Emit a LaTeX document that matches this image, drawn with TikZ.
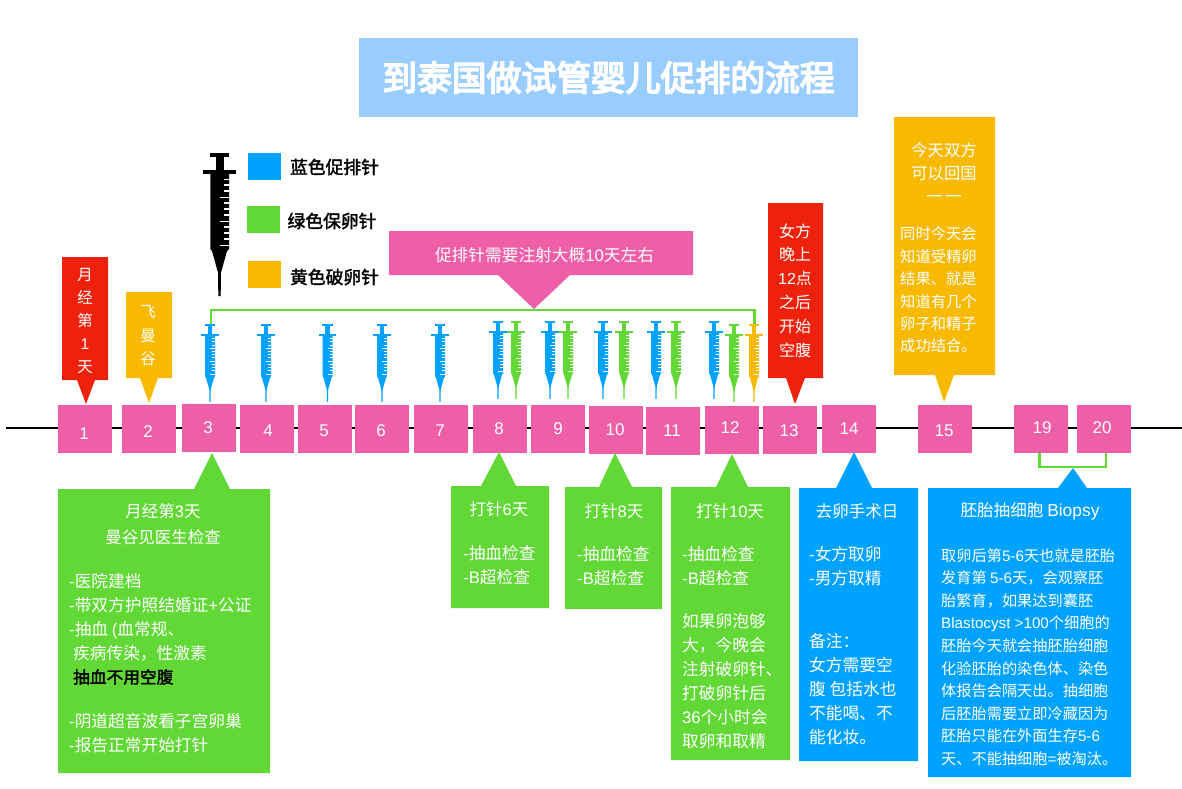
\documentclass[tikz,border=0pt]{standalone}
\usepackage{fontspec}
\setmainfont{Noto Sans CJK SC}
\newfontfamily\latfont{Liberation Sans}
\newfontfamily\medfont[FakeBold=2]{Noto Sans CJK SC}
\newfontfamily\headfont[FakeBold=4.5]{Noto Sans CJK SC}
\newcommand{\lat}[1]{{\latfont #1}}

\definecolor{cpink}{HTML}{EF5FA7}
\definecolor{cgreen}{HTML}{61D836}
\definecolor{cblue}{HTML}{00A2FF}
\definecolor{corange}{HTML}{F8BA00}
\definecolor{cred}{HTML}{EE220C}
\definecolor{ctitle}{HTML}{99CCFF}

\tikzset{
  daybox/.style={fill=cpink,minimum width=54pt,minimum height=48pt,inner sep=0pt},
  daynum/.style={text=white,inner sep=0pt,font=\latfont\fontsize{17}{20}\selectfont},
  legendbox/.style={minimum width=33pt,minimum height=27pt,inner sep=0pt},
  legendtxt/.style={inner sep=0pt,font=\medfont\fontsize{17.8}{20}\selectfont},
  headtxt/.style={text=white,inner sep=0pt,align=center,font=\fontsize{16.5}{24}\selectfont},
  bodytxt/.style={text=white,inner sep=0pt,align=left,anchor=west,font=\fontsize{16.7}{24}\selectfont},
  smalltxt/.style={text=white,inner sep=0pt,align=left,anchor=west,font=\fontsize{15.2}{22.6}\selectfont},
  pics/syringe/.style={code={
    \fill[#1] (-9.5,0.5) rectangle (9.5,4.5);
    \fill[#1] (-4,4.5) rectangle (4,18);
    \fill[#1] (-16.5,18) rectangle (16.5,22);
    \fill[#1] (-9.2,22) -- (9.5,22) -- (9.5,97) -- (7.5,99) -- (1.4,121) -- (1.2,144) -- (-1.2,144) -- (-1.4,121) -- (-7.5,99) -- (-9.2,97) -- cycle;
    % scale marks, every fourth one long
    \foreach \k in {26.7,32,38,50,56,62,74,80,86}{
      \fill[white] (4.5,\k) rectangle (9.6,\k+1.7);
    }
    \foreach \k in {44.7,68.7,92.7}{
      \fill[white] (0.2,\k) rectangle (9.6,\k+1.7);
    }
  }}
}

\begin{document}
\begin{tikzpicture}[x=1pt,y=-1pt]
  \useasboundingbox (0,0) rectangle (1182,788);

  % heading and legend
  \node (title) at (608.5,77.5) [fill=ctitle,minimum width=499pt,minimum height=79pt,text=white,font=\headfont\fontsize{34.8}{40}\selectfont]{到泰国做试管婴儿促排的流程};
  \pic at (219.5,152) {syringe=black};
  \node (keyb) at (264.5,166.5) [legendbox,fill=cblue]{};
  \node (keyg) at (263.5,219.5) [legendbox,fill=cgreen]{};
  \node (keyo) at (264,274) [legendbox,fill=corange]{};
  \node (txtb) at (334.5,167) [legendtxt]{蓝色促排针};
  \node (txtg) at (332,221) [legendtxt]{绿色保卵针};
  \node (txto) at (334.5,277) [legendtxt]{黄色破卵针};

  % time line and day boxes
  \coordinate (tl0) at (6,428);
  \coordinate (tl1) at (1182,428);
  \draw[line width=2.6pt] (tl0) -- (tl1);
  \node (d1) at (85,428.5) [daybox]{};
  \node (n1) at (84,434) [daynum]{1};
  \node (d2) at (149,428.5) [daybox]{};
  \node (n2) at (148,432) [daynum]{2};
  \node (d3) at (209,428) [daybox]{};
  \node (n3) at (208,428) [daynum]{3};
  \node (d4) at (267,429) [daybox]{};
  \node (n4) at (268,431) [daynum]{4};
  \node (d5) at (325,429) [daybox]{};
  \node (n5) at (324,431) [daynum]{5};
  \node (d6) at (382,429) [daybox]{};
  \node (n6) at (381,431) [daynum]{6};
  \node (d7) at (441,429) [daybox]{};
  \node (n7) at (440,431) [daynum]{7};
  \node (d8) at (500,429) [daybox]{};
  \node (n8) at (499,429) [daynum]{8};
  \node (d9) at (558,429) [daybox]{};
  \node (n9) at (558,429) [daynum]{9};
  \node (d10) at (615.5,430) [daybox]{};
  \node (n10) at (615,430) [daynum]{10};
  \node (d11) at (673,430.5) [daybox]{};
  \node (n11) at (672,431) [daynum]{11};
  \node (d12) at (732,430) [daybox]{};
  \node (n12) at (730,428) [daynum]{12};
  \node (d13) at (790,430) [daybox]{};
  \node (n13) at (789,431) [daynum]{13};
  \node (d14) at (849,429) [daybox]{};
  \node (n14) at (849,429) [daynum]{14};
  \node (d15) at (945,428.5) [daybox]{};
  \node (n15) at (944,431) [daynum]{15};
  \node (d19) at (1041,428.5) [daybox]{};
  \node (n19) at (1042,428) [daynum]{19};
  \node (d20) at (1104,428.5) [daybox]{};
  \node (n20) at (1102,428) [daynum]{20};

  % syringes above the days
  \coordinate (br0) at (211,324);
  \coordinate (br1) at (211,310);
  \coordinate (br2) at (754.5,310);
  \coordinate (br3) at (754.5,324);
  \draw[color = cgreen,line width=2.8pt] (br0) -- (br1) -- (br2) -- (br3);
  \pic[scale=.54] at (210,324) {syringe=cblue};
  \pic[scale=.54] at (266,324) {syringe=cblue};
  \pic[scale=.54] at (327.5,324) {syringe=cblue};
  \pic[scale=.54] at (382,324) {syringe=cblue};
  \pic[scale=.54] at (440,324) {syringe=cblue};
  \pic[scale=.54] at (498,321) {syringe=cblue};
  \pic[scale=.54] at (516,321) {syringe=cgreen};
  \pic[scale=.54] at (550,321) {syringe=cblue};
  \pic[scale=.54] at (568,321) {syringe=cgreen};
  \pic[scale=.54] at (603,321) {syringe=cblue};
  \pic[scale=.54] at (624,321) {syringe=cgreen};
  \pic[scale=.54] at (656,321) {syringe=cblue};
  \pic[scale=.54] at (676,321) {syringe=cgreen};
  \pic[scale=.54] at (714,321) {syringe=cblue};
  \pic[scale=.54] at (734,324) {syringe=cgreen};
  \pic[scale=.54] at (754,324) {syringe=corange};

  % banner over the syringes
  \fill[color = cpink] (389,231) -- (693,231) -- (693,275) -- (570,275) -- (534,309) -- (498,275) -- (389,275) -- cycle;
  \node (ban) at (544.5,255) [text=white,inner sep=0pt,font=\fontsize{16.7}{20}\selectfont]{促排针需要注射大概\lat{10}天左右};

  % callouts above the line
  \fill[color = cred] (62,257) -- (108,257) -- (108,380) -- (95,380) -- (86,404) -- (77,380) -- (62,380) -- cycle;
  \node (c1) at (85,321) [headtxt,font=\fontsize{15.5}{23}\selectfont]{月\\经\\第\\\lat{1}\\天};
  \fill[color = corange] (126,292) -- (172,292) -- (172,378) -- (158,378) -- (149,403) -- (140,378) -- (126,378) -- cycle;
  \node (c2) at (148,336) [headtxt,font=\fontsize{15.5}{23.5}\selectfont]{飞\\曼\\谷};
  \fill[color = cred] (768,203) -- (823,203) -- (823,378) -- (805,378) -- (795,404) -- (786,378) -- (768,378) -- cycle;
  \node (c13) at (795,290.5) [headtxt,font=\fontsize{16}{23.8}\selectfont]{女方\\晚上\\\lat{12}点\\之后\\开始\\空腹};
  \fill[color = corange] (894,117) -- (995,117) -- (995,375) -- (954,375) -- (944,402) -- (935,375) -- (894,375) -- cycle;
  \node (c15a) at (944,173) [headtxt,font=\fontsize{16.3}{23}\selectfont]{今天双方\\可以回国\\一\hspace{2.5pt}一};
  \node (c15b) at (900,290) [smalltxt,font=\fontsize{15.3}{22.4}\selectfont]{同时今天会\\知道受精卵\\结果、就是\\知道有几个\\卵子和精子\\成功结合。};

  % callouts below the line
  \fill[color = cgreen] (58,489) -- (194,489) -- (212,453) -- (230,489) -- (270,489) -- (270,773) -- (58,773) -- cycle;
  \node (c3a) at (163,524) [headtxt]{月经第\lat{3}天\\[2pt]曼谷见医生检查};
  \node (c3b) at (69,629) [bodytxt]{\lat{-}医院建档\\\lat{-}带双方护照结婚证\lat{+}公证\\\lat{-}抽血 \lat{(}血常规、\\\hspace*{4pt}疾病传染，性激素\\\hspace*{4pt}\textcolor{black}{\medfont 抽血不用空腹}};
  \node (c3c) at (69,733) [bodytxt]{\lat{-}阴道超音波看子宫卵巢\\\lat{-}报告正常开始打针};

  \fill[color = cgreen] (451,486) -- (481,486) -- (499,452) -- (516,486) -- (549,486) -- (549,608) -- (451,608) -- cycle;
  \node (c8a) at (499,509) [headtxt]{打针\lat{6}天};
  \node (c8b) at (463,565.5) [bodytxt]{\lat{-}抽血检查\\\lat{-B}超检查};

  \fill[color = cgreen] (565,487) -- (599,487) -- (615,453) -- (632,487) -- (662,487) -- (662,609) -- (565,609) -- cycle;
  \node (c10a) at (614,511) [headtxt]{打针\lat{8}天};
  \node (c10b) at (577,566.5) [bodytxt]{\lat{-}抽血检查\\\lat{-B}超检查};

  \fill[color = cgreen] (671,487) -- (716,487) -- (732,454) -- (748,487) -- (790,487) -- (790,760) -- (671,760) -- cycle;
  \node (c12a) at (730,511) [headtxt]{打针\lat{10}天};
  \node (c12b) at (682,566.5) [bodytxt]{\lat{-}抽血检查\\\lat{-B}超检查};
  \node (c12c) at (682,681.5) [bodytxt]{如果卵泡够\\大，今晚会\\注射破卵针、\\打破卵针后\\\lat{36}个小时会\\取卵和取精};

  \fill[color = cblue] (799,488) -- (836,488) -- (854,452) -- (872,488) -- (918,488) -- (918,761) -- (799,761) -- cycle;
  \node (c14a) at (857,511) [headtxt]{去卵手术日};
  \node (c14b) at (809,566.5) [bodytxt]{\lat{-}女方取卵\\\lat{-}男方取精};
  \node (c14c) at (809,689.5) [bodytxt]{备注：\\女方需要空\\腹 包括水也\\不能喝、不\\能化妆。};

  \coordinate (pr0) at (1039.5,453);
  \coordinate (pr1) at (1039.5,467);
  \coordinate (pr2) at (1106,467);
  \coordinate (pr3) at (1106,453);
  \draw[color = cgreen,line width=2.4pt] (pr0) -- (pr1) -- (pr2) -- (pr3);
  \fill[color = cblue] (928,488) -- (1058,488) -- (1073,468) -- (1087,488) -- (1131,488) -- (1131,777) -- (928,777) -- cycle;
  \node (c19a) at (1030,511) [headtxt,font=\fontsize{16.6}{24}\selectfont]{胚胎抽细胞 \lat{\fontsize{17.4}{24}\selectfont Biopsy}};
  \node (c19b) at (941,657) [smalltxt]{取卵后第\lat{5-6}天也就是胚胎\\发育第 \lat{5-6}天，会观察胚\\胎繁育，如果达到囊胚\\\lat{Blastocyst >100}个细胞的\\胚胎今天就会抽胚胎细胞\\化验胚胎的染色体、染色\\体报告会隔天出。抽细胞\\后胚胎需要立即冷藏因为\\胚胎只能在外面生存\lat{5-6}\\天、不能抽细胞\lat{=}被淘汰。};
\end{tikzpicture}
\end{document}
